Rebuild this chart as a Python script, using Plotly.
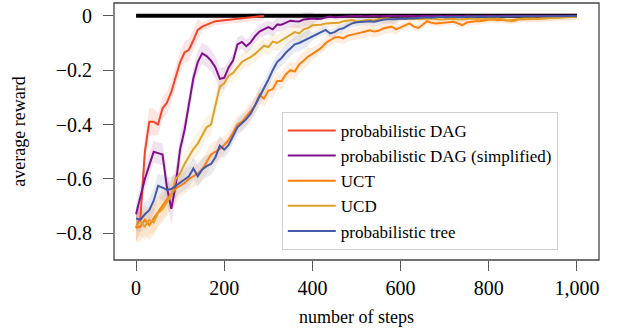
import plotly.graph_objects as go

steps = list(range(0, 1001, 10))
steps_red = list(range(0, 291, 10))

dag = [-0.78, -0.74, -0.50, -0.39, -0.39, -0.40, -0.34, -0.32, -0.28, -0.22,
       -0.17, -0.135, -0.125, -0.09, -0.052, -0.04, -0.032, -0.026, -0.02, -0.018,
       -0.016, -0.015, -0.012, -0.011, -0.009, -0.008, -0.005, -0.004, -0.002, -0.001]

dag_simpl = [-0.73, -0.66, -0.60, -0.55, -0.50, -0.505, -0.51, -0.63, -0.71, -0.62,
             -0.49, -0.42, -0.32, -0.23, -0.17, -0.138, -0.148, -0.165, -0.19, -0.232,
             -0.228, -0.19, -0.165, -0.105, -0.096, -0.112, -0.098, -0.075, -0.058, -0.05,
             -0.042, -0.05, -0.032, -0.033, -0.024, -0.018, -0.02, -0.021, -0.014, -0.012,
             -0.01, -0.012, -0.011, -0.006, -0.003, -0.005, -0.004, -0.002, -0.003, -0.001,
             -0.002, -0.001, -0.003, -0.001, 0.0, -0.002, -0.001, -0.001, 0.0, -0.001,
             -0.002, -0.001, 0.0, -0.001, -0.002, 0.0, -0.001, -0.001, 0.0, -0.001,
             -0.001, 0.0, -0.001, -0.002, -0.001, 0.0, -0.001, 0.0, -0.001, 0.0,
             -0.001, 0.0, -0.001, 0.0, 0.0, -0.001, 0.0, -0.001, 0.0, 0.0,
             -0.001, 0.0, 0.0, -0.001, 0.0, 0.0, 0.0, -0.001, 0.0, 0.0, 0.0]

uct = [-0.78, -0.775, -0.75, -0.77, -0.745, -0.72, -0.695, -0.675, -0.655, -0.635,
       -0.625, -0.615, -0.60, -0.59, -0.58, -0.565, -0.54, -0.51, -0.50, -0.49,
       -0.475, -0.457, -0.43, -0.40, -0.39, -0.37, -0.35, -0.33, -0.29, -0.305,
       -0.275, -0.27, -0.24, -0.24, -0.215, -0.20, -0.205, -0.178, -0.165, -0.15,
       -0.14, -0.128, -0.118, -0.10, -0.09, -0.08, -0.078, -0.083, -0.073, -0.07,
       -0.065, -0.062, -0.058, -0.053, -0.058, -0.055, -0.047, -0.043, -0.04, -0.05,
       -0.042, -0.035, -0.028, -0.04, -0.045, -0.033, -0.02, -0.026, -0.028, -0.027,
       -0.025, -0.022, -0.022, -0.028, -0.034, -0.025, -0.022, -0.02, -0.02, -0.017,
       -0.015, -0.014, -0.016, -0.015, -0.017, -0.016, -0.014, -0.012, -0.013, -0.012,
       -0.011, -0.01, -0.011, -0.009, -0.009, -0.008, -0.007, -0.006, -0.005, -0.004, -0.004]

ucd = [-0.775, -0.755, -0.775, -0.75, -0.76, -0.725, -0.712, -0.685, -0.66, -0.60,
       -0.58, -0.545, -0.515, -0.49, -0.47, -0.44, -0.41, -0.40, -0.33, -0.26,
       -0.248, -0.22, -0.21, -0.19, -0.17, -0.16, -0.152, -0.14, -0.125, -0.11,
       -0.115, -0.095, -0.10, -0.09, -0.078, -0.07, -0.06, -0.065, -0.05, -0.045,
       -0.035, -0.034, -0.033, -0.028, -0.028, -0.027, -0.026, -0.02, -0.018, -0.016,
       -0.022, -0.02, -0.018, -0.015, -0.017, -0.012, -0.011, -0.01, -0.012, -0.013,
       -0.012, -0.011, -0.012, -0.01, -0.013, -0.012, -0.011, -0.01, -0.012, -0.014,
       -0.013, -0.011, -0.012, -0.013, -0.014, -0.012, -0.01, -0.011, -0.013, -0.012,
       -0.01, -0.011, -0.01, -0.012, -0.016, -0.02, -0.018, -0.012, -0.01, -0.009,
       -0.01, -0.012, -0.01, -0.008, -0.008, -0.007, -0.006, -0.006, -0.005, -0.004, -0.004]

ptree = [-0.745, -0.75, -0.73, -0.715, -0.68, -0.625, -0.632, -0.64, -0.637, -0.625,
         -0.612, -0.602, -0.59, -0.562, -0.59, -0.565, -0.553, -0.545, -0.52, -0.478,
         -0.492, -0.475, -0.44, -0.41, -0.395, -0.38, -0.36, -0.33, -0.30, -0.27,
         -0.235, -0.20, -0.17, -0.155, -0.135, -0.12, -0.105, -0.10, -0.092, -0.082,
         -0.075, -0.067, -0.058, -0.052, -0.065, -0.06, -0.05, -0.046, -0.036, -0.028,
         -0.024, -0.022, -0.02, -0.02, -0.022, -0.018, -0.015, -0.013, -0.014, -0.013,
         -0.01, -0.012, -0.009, -0.01, -0.008, -0.006, -0.005, -0.007, -0.005, -0.004,
         -0.005, -0.004, -0.003, -0.004, -0.005, -0.003, -0.004, -0.003, -0.003, -0.004,
         -0.003, -0.002, -0.003, -0.003, -0.002, -0.003, -0.002, -0.002, -0.003, -0.002,
         -0.002, -0.003, -0.002, -0.002, -0.001, -0.002, -0.002, -0.001, -0.002, -0.001, -0.001]

# confidence band half-widths
dag_err = [0.05] * 5 + [0.04] * 10 + [0.015] * 15
dag_simpl_err = [0.04] * 7 + [0.055] * 4 + [0.04] * 10 + [0.025] * 20 + [0.008] * 60
uct_err = [0.055] * 10 + [0.04] * 10 + [0.032] * 20 + [0.022] * 20 + [0.012] * 41
ucd_err = [0.05] * 10 + [0.04] * 10 + [0.03] * 20 + [0.015] * 20 + [0.01] * 41
ptree_err = [0.045] * 10 + [0.04] * 10 + [0.03] * 20 + [0.015] * 20 + [0.006] * 41

ref_x = [0, 1000]
ref_y = [0, 0]

series = [
    ("probabilistic DAG", steps_red, dag, dag_err, "#F2452B", "rgba(242,69,43,0.14)"),
    ("probabilistic DAG (simplified)", steps, dag_simpl, dag_simpl_err, "#80108A", "rgba(128,16,138,0.12)"),
    ("UCT", steps, uct, uct_err, "#FF7F0E", "rgba(255,127,14,0.13)"),
    ("UCD", steps, ucd, ucd_err, "#DFA12B", "rgba(223,161,43,0.13)"),
    ("probabilistic tree", steps, ptree, ptree_err, "#4459A8", "rgba(68,89,168,0.12)"),
]

for name, xs, ys, es, _, _ in series:
    assert len(xs) == len(ys) == len(es), (name, len(xs), len(ys), len(es))

fig = go.Figure()

for name, xs, ys, es, col, fill in series:
    upper = [y + e for y, e in zip(ys, es)]
    lower = [y - e for y, e in zip(ys, es)]
    fig.add_trace(go.Scatter(x=xs + xs[::-1], y=upper + lower[::-1], fill="toself",
                             fillcolor=fill, line=dict(width=0), mode="lines",
                             hoverinfo="skip", showlegend=False))

fig.add_trace(go.Scatter(x=ref_x, y=ref_y, mode="lines",
                         line=dict(color="black", width=4), showlegend=False))

for name, xs, ys, es, col, fill in series:
    fig.add_trace(go.Scatter(x=xs, y=ys, mode="lines", name=name,
                             line=dict(color=col, width=2)))

font = "Liberation Serif, Times New Roman, serif"
fig.update_layout(
    width=617, height=328,
    margin=dict(l=114, r=18, t=3, b=68),
    paper_bgcolor="white", plot_bgcolor="white",
    font=dict(family=font, size=16, color="black"),
    legend=dict(x=0.346, y=0.576, xanchor="left", yanchor="top",
                bgcolor="white", bordercolor="#cfcfcf", borderwidth=1,
                font=dict(family=font, size=17), itemwidth=48, tracegroupgap=0),
    xaxis=dict(range=[-50, 1050], tickvals=[0, 200, 400, 600, 800, 1000],
               tickformat=",d", ticks="outside", ticklen=10, tickcolor="#555555",
               tickwidth=1.2, tickfont=dict(size=20), ticklabelstandoff=0,
               showline=False, showgrid=False, zeroline=False,
               title=dict(text="number of steps", font=dict(size=18), standoff=12)),
    yaxis=dict(range=[-0.898, 0.047], tickvals=[-0.8, -0.6, -0.4, -0.2, 0],
               ticktext=["\u22120.8", "\u22120.6", "\u22120.4", "\u22120.2", "0"],
               ticks="outside", ticklen=10, tickcolor="#555555",
               tickwidth=1.2, tickfont=dict(size=20), ticklabelstandoff=7,
               showline=False, showgrid=False, zeroline=False,
               title=dict(text="average reward", font=dict(size=18), standoff=25)),
    shapes=[dict(type="rect", xref="paper", yref="paper", x0=0, x1=1, y0=0, y1=1,
                 line=dict(color="#444444", width=1.3), fillcolor="rgba(0,0,0,0)",
                 layer="above")],
)

fig.write_html("out.html", config={"displayModeBar": False},
               post_script="document.body.style.margin='0';document.body.style.overflow='hidden';")
